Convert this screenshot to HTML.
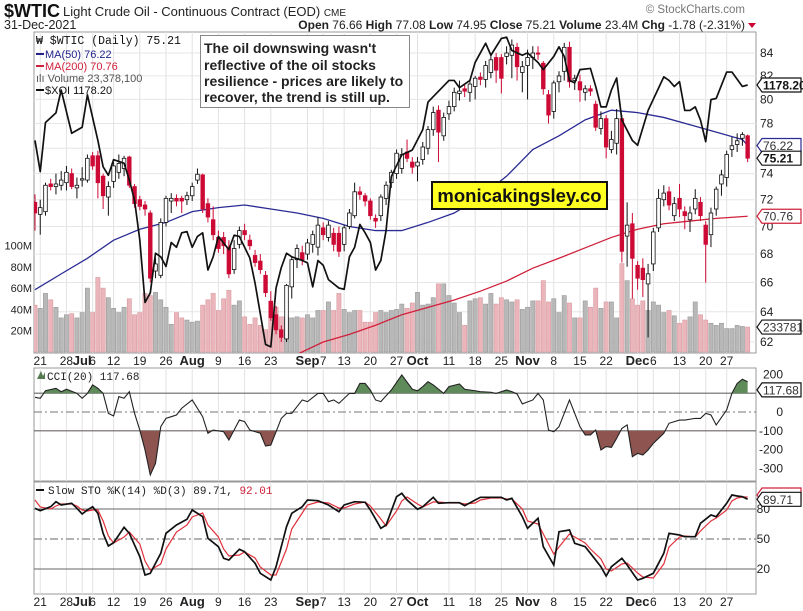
<!DOCTYPE html>
<html><head><meta charset="utf-8">
<style>
html,body{margin:0;padding:0;background:#fff;}
svg{display:block;font-family:"Liberation Sans",Arial,sans-serif;}
</style></head>
<body>
<svg id="chart" width="803" height="611" viewBox="0 0 803 611" xmlns="http://www.w3.org/2000/svg">
  <defs>
    <clipPath id="mainClip"><rect x="34" y="32" width="722" height="321"/></clipPath>
    <clipPath id="cciClip"><rect x="34" y="368" width="722" height="113"/></clipPath>
    <clipPath id="stoClip"><rect x="34" y="482" width="722" height="112"/></clipPath>
    <clipPath id="cciUp"><rect x="34" y="368" width="722" height="25.2"/></clipPath>
    <clipPath id="cciDn"><rect x="34" y="430.8" width="722" height="51"/></clipPath>
  </defs>
  <g>
    <text x="4" y="17" font-size="18" font-weight="bold" fill="#111">$WTIC</text>
    <text x="63" y="16" font-size="13" fill="#222">Light Crude Oil - Continuous Contract (EOD) <tspan font-size="10">CME</tspan></text>
    <text x="4" y="29" font-size="12.5" fill="#222">31-Dec-2021</text>
    <text x="745" y="13" font-size="11.5" fill="#777" text-anchor="end">© StockCharts.com</text>
    <text x="745" y="29" font-size="12" fill="#222" text-anchor="end"><tspan font-weight="bold">Open</tspan> 76.66  <tspan font-weight="bold">High</tspan> 77.08  <tspan font-weight="bold">Low</tspan> 74.95  <tspan font-weight="bold">Close</tspan> 75.21  <tspan font-weight="bold">Volume</tspan> 23.4M  <tspan font-weight="bold">Chg</tspan> -1.78 (-2.31%)</text>
    <polygon points="748,23 756,23 752,28" fill="#cc0033"/>
  </g>
  <g id="frames">
    <rect x="34" y="32" width="722" height="321" fill="none" stroke="#999"/>
    <rect x="34" y="368" width="722" height="113" fill="none" stroke="#999"/>
    <rect x="34" y="482" width="722" height="112" fill="none" stroke="#999"/>
  </g>
  <g id="grid"></g>
  <g id="volG" clip-path="url(#mainClip)"></g>
  <g id="maG" clip-path="url(#mainClip)"></g>
  <g id="candleG" clip-path="url(#mainClip)"></g>
  <g id="xoiG" clip-path="url(#mainClip)"></g>
  <g id="cciG"></g>
  <g id="stoG"></g>
  <g id="axisG"></g>

  <g>
    <text x="36" y="44" font-family="Liberation Mono, monospace" font-size="11.5" fill="#111">₩ $WTIC (Daily) 75.21</text>
    <line x1="36" y1="54" x2="44" y2="54" stroke="#23238e" stroke-width="2"/>
    <text x="45" y="58" font-size="11" fill="#23238e">MA(50) 76.22</text>
    <line x1="36" y1="66" x2="44" y2="66" stroke="#d0203a" stroke-width="2"/>
    <text x="45" y="70" font-size="11" fill="#d0203a">MA(200) 70.76</text>
    <text x="36" y="82" font-size="11" fill="#555">ılı Volume 23,378,100</text>
    <line x1="36" y1="90" x2="44" y2="90" stroke="#111" stroke-width="2"/>
    <text x="45" y="94" font-size="11" fill="#111">$XOI 1178.20</text>
  </g>

  <g>
    <rect x="200.5" y="35.5" width="209" height="72" fill="#fff" stroke="#888"/>
    <text font-size="14" font-weight="bold" fill="#222">
      <tspan x="204" y="53">The oil downswing wasn't</tspan>
      <tspan x="204" y="70">reflective of the oil stocks</tspan>
      <tspan x="204" y="86">resilience - prices are likely to</tspan>
      <tspan x="204" y="102">recover, the trend is still up.</tspan>
    </text>
  </g>
  <g>
    <rect x="432" y="182" width="175" height="27" fill="#ffff22" stroke="#111" stroke-width="2"/>
    <text x="519.5" y="202" font-size="18.5" font-weight="bold" fill="#111" text-anchor="middle">monicakingsley.co</text>
  </g>

  <g>
    <polygon points="37,379 41,371 43,376 45,372 45,379" fill="#557a50"/>
    <text x="47" y="380" font-family="Liberation Mono, monospace" font-size="11" fill="#222">CCI(20) 117.68</text>
  </g>
  <g>
    <line x1="36" y1="490" x2="44" y2="490" stroke="#111" stroke-width="2"/>
    <text x="48" y="494" font-family="Liberation Mono, monospace" font-size="11" fill="#222">Slow STO %K(14) %D(3) 89.71, <tspan fill="#d0203a">92.01</tspan></text>
  </g>
</svg>
<script>
// ===== data =====
const opens = [71.8,70.9,71.1,73.2,73.0,73.1,73.3,74.0,72.9,73.5,73.5,75.4,75.4,73.8,72.2,73.4,74.1,74.4,75.3,73.0,72.0,71.6,71.0,66.8,66.5,70.3,71.9,72.1,72.1,72.0,72.3,73.5,73.9,71.7,70.5,69.2,69.2,68.5,66.9,68.7,69.7,69.0,67.9,67.5,66.5,64.7,63.8,62.8,62.2,65.7,67.6,68.1,68.0,68.7,68.5,69.9,69.2,69.5,69.5,68.7,70.0,70.8,72.6,72.3,71.9,70.6,70.8,72.1,73.3,74.0,
74.4,75.7,74.9,74.6,75.1,76.0,77.5,79.1,77.0,78.8,79.4,80.5,80.9,80.6,81.1,81.9,81.7,82.3,83.6,83.6,83.7,83.8,84.5,82.3,82.9,83.6,84.0,83.1,80.4,79.0,81.5,82.4,84.5,81.6,81.5,80.6,80.9,79.6,77.6,78.4,75.9,76.4,78.4,
69.3,70.2,67.2,67.0,65.9,67.3,69.9,72.0,72.6,70.8,72.1,71.1,70.5,71.3,71.8,70.1,69.4,71.3,73.2,73.7,75.9,76.3,76.8,77.0];
const highs = [72.4,72.0,73.3,73.6,74.0,74.2,74.6,74.4,73.7,74.5,75.5,75.7,75.8,74.0,73.4,74.9,75.5,75.4,75.4,73.2,72.3,71.9,71.2,67.7,70.6,72.3,72.5,72.4,72.3,72.6,73.3,74.4,74.0,72.1,71.5,69.7,69.6,69.0,69.0,70.0,70.2,69.4,68.3,68.0,66.8,65.4,64.4,63.1,65.9,67.8,68.7,68.6,69.1,69.7,70.7,70.3,70.4,69.9,70.0,70.1,71.3,73.3,73.0,72.5,72.1,70.9,72.4,73.4,74.3,75.9,
76.0,76.7,75.3,75.3,76.5,77.8,79.4,79.5,78.9,79.9,81.0,81.6,81.3,81.7,82.0,82.3,83.3,83.9,84.0,83.9,84.6,85.2,84.9,83.3,84.3,84.6,84.6,83.3,80.8,81.6,82.4,84.9,85.0,82.1,82.1,81.2,81.2,79.9,79.0,78.7,77.4,79.2,78.7,
71.8,71.0,67.5,67.7,67.3,69.9,72.8,73.1,73.0,72.2,73.2,71.5,71.5,72.8,72.2,70.4,71.4,73.0,74.3,75.8,76.9,77.2,77.3,77.1];
const lows = [69.7,69.4,70.8,72.7,72.4,72.7,72.7,72.8,72.1,73.0,73.3,74.3,72.1,71.3,70.8,72.9,73.6,73.8,72.9,71.4,71.2,70.8,66.0,66.3,66.3,70.0,71.0,71.5,71.0,71.6,71.9,73.2,71.0,70.3,69.0,68.1,68.0,66.3,66.6,68.4,69.0,68.3,67.1,66.6,65.0,63.4,62.5,62.0,62.0,64.9,67.0,67.2,67.6,68.1,67.9,69.0,68.9,68.2,67.8,68.2,69.8,70.6,72.0,71.5,70.5,69.9,70.4,71.6,72.9,73.6,
74.0,74.9,74.0,73.4,74.7,75.5,77.0,74.9,76.6,78.3,79.0,79.9,80.2,79.8,80.0,81.2,81.0,81.8,81.4,80.5,83.0,81.8,81.6,80.6,80.0,82.6,83.4,80.4,78.0,78.4,80.6,81.6,81.0,80.8,79.8,79.9,80.3,77.4,77.1,75.2,75.6,75.5,67.4,
67.1,64.9,65.5,65.0,62.3,66.8,69.6,71.5,71.2,70.4,70.7,69.8,69.6,70.9,70.4,66.0,68.5,70.8,72.3,73.0,75.3,75.7,76.2,74.9];
const closes = [71.0,71.4,73.1,73.0,73.2,73.5,74.1,73.0,73.1,73.6,75.2,74.6,73.3,72.3,73.0,74.6,74.8,75.2,73.1,71.7,71.5,71.3,66.3,67.3,70.3,72.1,72.1,71.9,71.9,72.3,73.0,73.95,71.3,70.7,69.4,68.4,68.6,66.6,68.4,69.7,69.4,68.6,67.4,66.9,65.3,63.6,62.8,62.3,65.8,67.6,68.4,67.6,68.8,69.4,70.1,69.4,70.1,68.7,68.2,69.9,71.0,72.6,72.4,71.9,70.8,70.4,72.2,73.1,74.1,75.6,
75.5,75.2,74.5,74.9,76.1,77.5,78.9,77.3,78.5,79.4,80.6,80.7,80.7,81.3,81.8,81.7,82.9,83.4,82.5,81.8,84.0,84.7,82.8,82.8,83.6,84.0,83.9,80.9,78.7,81.4,82.0,84.5,81.5,81.8,80.8,80.9,80.7,77.7,78.4,76.1,76.7,78.4,68.2,
70.1,67.7,66.3,66.2,66.6,69.6,72.1,72.5,71.6,71.7,71.3,70.8,71.0,72.1,70.8,68.7,71.0,72.8,73.9,75.5,76.2,76.6,77.1,75.21];
const volumes = [44,41,55,49,42,32,35,36,32,37,60,37,70,60,51,41,37,42,50,35,37,55,53,56,49,42,26,37,32,30,28,29,44,49,55,39,50,58,44,48,33,26,32,25,21,48,42,33,33,32,33,32,35,32,39,39,47,39,55,40,37,39,39,28,28,37,39,37,39,40,
45,41,46,56,44,45,51,64,64,53,46,37,25,48,50,51,45,55,45,51,49,47,49,40,42,48,48,67,47,50,37,53,46,32,32,48,42,60,41,47,47,32,83,67,50,44,48,39,47,44,37,39,34,27,30,33,47,35,30,27,25,27,22,22,25,24,23.4];
const ma50Idx = [0,5,10,15,20,25,30,35,40,45,50,55,60,65,70,75,80,85,90,95,100,105,110,115,120,125,130,135,136];
const ma50Val = [65.5,66.6,67.7,69.0,69.8,70.3,71.1,71.4,71.6,71.3,71.0,70.6,70.0,69.7,69.7,70.3,71.0,72.2,73.8,75.9,77.0,78.3,79.1,78.9,78.5,77.9,77.3,76.7,76.22];
const ma200Idx = [50,55,60,65,70,75,80,85,90,95,100,105,110,115,120,125,130,136];
const ma200Val = [61.2,62.0,62.5,63.1,63.8,64.3,64.8,65.4,66.1,67.0,67.7,68.45,69.2,69.8,70.2,70.4,70.6,70.76];
const xoiIdx = [0,1,2,4,5,7,9,10,12,13,14,15,17,18,19,20,21,22,23,24,25,26,27,28,29,30,31,32,33,34,35,37,38,39,40,41,42,44,45,46,47,48,49,51,52,53,54,55,56,58,59,60,61,62,63,64,65,66,67,68,70,72,74,75,79,80,81,83,84,85,86,87,89,90,91,93,94,96,97,99,100,101,102,103,104,106,107,108,109,110,111,112,114,115,117,120,121,122,123,124,125,126,127,128,129,130,132,133,135,136];
const xoiVal = [1132,1106,1147,1155,1174,1138,1143,1170,1132,1110,1103,1116,1113,1099,1082,1049,997,1005,1038,1035,1027,1047,1043,1055,1056,1043,1052,1055,1024,1035,1052,1041,1053,1052,1043,1034,1013,962,960,1009,1026,1038,1035,1032,1030,1010,1032,1028,1016,1009,1008,1035,1043,1062,1055,1047,1024,1032,1057,1102,1120,1124,1141,1164,1182,1182,1176,1182,1197,1205,1213,1203,1217,1218,1207,1203,1205,1197,1191,1202,1210,1202,1182,1180,1191,1192,1177,1160,1160,1174,1184,1149,1132,1128,1157,1185,1182,1177,1181,1157,1157,1160,1149,1131,1166,1167,1189,1189,1177,1178.2];
const cciIdx = [0,1,2,4,5,6,8,9,10,11,12,13,14,15,16,17,18,19,20,21,22,23,24,25,26,27,28,30,32,33,34,36,37,38,39,40,41,43,44,45,47,48,49,51,52,54,55,56,57,58,60,61,62,63,64,65,66,68,70,72,73,74,75,76,78,79,81,82,84,85,87,88,90,91,92,93,95,96,97,98,99,100,101,102,103,104,105,106,107,108,109,110,111,112,113,114,115,116,117,118,120,121,123,124,126,127,128,129,130,132,133,134,135,136];
const cciVal = [78,73,113,126,108,121,99,73,99,144,126,99,-7,-21,82,73,108,-7,-96,-202,-335,-273,-78,-34,-25,-16,20,64,-25,-113,-96,-105,-149,-96,-43,-51,-96,-113,-181,-176,-34,-7,-7,64,55,99,99,55,64,46,99,99,152,152,117,64,55,117,197,121,113,135,161,144,99,135,149,121,113,108,105,99,117,108,96,43,64,99,64,-96,-105,-78,-7,64,-7,-78,-122,-122,-96,-202,-184,-188,-140,-87,-69,-238,-220,-229,-202,-167,-113,-60,-43,-43,-34,-34,-7,-16,-69,11,99,152,174,161,117.68];
const stoIdx = [0,1,3,4,5,7,8,9,10,11,12,13,14,15,17,18,20,21,22,24,25,27,29,30,32,33,35,36,37,39,40,42,43,45,46,48,49,51,52,54,56,58,59,61,63,64,66,67,69,70,71,73,74,76,77,79,81,82,84,85,87,89,90,91,93,94,96,97,99,100,102,103,105,106,108,109,110,112,113,115,116,118,120,121,123,124,126,127,129,130,132,133,134,135,136];
const kVal = [80.7,78.3,82.3,87.3,84,85.7,80.7,75,79,82.3,75.7,55.7,43,46.3,61.7,55.7,32.3,14,15.7,35.7,55.7,64,69.7,79,72.3,50.7,42.3,30.7,29,39.7,37.3,25.7,15.7,9,22.3,62.3,75.7,82.3,89,88.3,84,77.3,84,87.3,86.7,79,60.7,64,92.3,95.7,89,79.7,82.3,91.7,85.7,86.3,86.3,83.3,89,91.7,91.7,91.7,89,90.7,72.3,60.7,70.7,42.3,24,57.3,59,45.7,42.3,35.7,22.3,13,22.3,30.7,24,9,10.7,15.7,35.7,55.7,54,52.3,52.3,65.7,74,72.3,85.7,94,93,92.3,89.71];
const dVal = [89,82,80,83,85,85,83,79,78,79,79,68,53,46,52,57,45,28,19,25,40,57,64,72,76,64,52,40,33,34,37,31,22,14,14,40,60,76,84,87,86,81,81,85,87,83,70,63,78,88,92,85,82,87,87,86,86,85,86,89,91,91,90,90,80,68,65,55,35,42,55,52,46,40,30,20,18,25,26,16,12,11,25,42,52,53,52,58,68,71,79,88,91,92,92.01];
const priceTicks = [84,82,80,78,76,74,72,70,68,66,64,62];
const volTicks = [20,40,60,80,100];
const cciTicks = [200,100,0,-100,-200,-300];
const stoTicks = [80,50,20];
const dateIdx = [1,6,9,11,15,20,25,30,35,40,45,52,55,59,64,69,73,79,84,89,94,99,104,109,115,118,123,128,132];
const dateLbl = ["21","28","Jul","6","12","19","26","Aug","9","16","23","Sep","7","13","20","27","Oct","11","18","25","Nov","8","15","22","Dec","6","13","20","27"];

// ===== scales =====
const NS = "http://www.w3.org/2000/svg";
const xB = i => 35 + i * 5.24;
const yP = p => 53 + Math.log(84 / p) * 951.6;
const yV = v => 352 - v * 1.065;
const yX = v => 85 + (1178.2 - v) * 1.2;
const yC = v => 412 - v * 0.188;
const yS = v => 589 - v * 1.0;
function mk(tag, attrs, parent){ const e=document.createElementNS(NS,tag); for(const k in attrs) e.setAttribute(k,attrs[k]); parent.appendChild(e); return e; }
const G = id => document.getElementById(id);

// grid
const grid = G('grid');
dateIdx.forEach(i=>{
  [[32,353],[368,481],[482,594]].forEach(r=>{
    const l=mk('line',{x1:xB(i),x2:xB(i),y1:r[0],y2:r[1],stroke:'#e2e2e2'},grid);
    
    
  });
});
priceTicks.forEach(p=>{
  const l=mk('line',{x1:34,x2:756,y1:yP(p),y2:yP(p),stroke:'#e6e6e6'},grid);
  
  
});

// volume
const volG = G('volG');
volumes.forEach((v,i)=>{
  const down = closes[i] < opens[i];
  const r=mk('rect',{x:xB(i)-2.1,y:yV(v),width:4.2,height:352-yV(v),fill:down?'#ebb6bb':'#b8b8b8',stroke:down?'#d89aa0':'#999','stroke-width':0.6},volG);
  
  
});

// moving averages
const maG = G('maG');
const ma50 = mk('polyline',{points:ma50Idx.map((d,k)=>xB(d)+','+yP(ma50Val[k])).join(' '),fill:'none',stroke:'#2b2b95','stroke-width':1.3},maG);


const ma200 = mk('polyline',{points:ma200Idx.map((d,k)=>xB(d)+','+yP(ma200Val[k])).join(' '),fill:'none',stroke:'#d0203a','stroke-width':1.3},maG);



// candles
const cG = G('candleG');
opens.forEach((o,i)=>{
  const c=closes[i], h=highs[i], l=lows[i], x=xB(i);
  const down = c<o;
  const col = down ? '#cc0a35' : '#111';
  const w=mk('line',{x1:x,x2:x,y1:yP(h),y2:yP(l),stroke:col,'stroke-width':1},cG);
  
  
  const top=yP(Math.max(o,c)), bot=yP(Math.min(o,c));
  const b=mk('rect',{x:x-1.8,y:top,width:3.6,height:Math.max(1,bot-top),fill:down?'#cc0a35':'#fff',stroke:col,'stroke-width':0.8},cG);
  
  
});

// XOI
const xoi = mk('polyline',{points:xoiIdx.map((d,k)=>xB(d)+','+yX(xoiVal[k])).join(' '),fill:'none',stroke:'#111','stroke-width':1.7,'stroke-linejoin':'round'},G('xoiG'));



// CCI
const cciG = G('cciG');
[[100,'solid'],[-100,'solid'],[0,'dash']].forEach(t=>{
  const l=mk('line',{x1:34,x2:756,y1:yC(t[0]),y2:yC(t[0]),stroke:t[1]==='dash'?'#777':'#666','stroke-width':1.1},cciG);
  if(t[1]==='dash') l.setAttribute('stroke-dasharray','8,3,2,3');
  
  
});
const cciPts = cciIdx.map((d,k)=>[xB(d),yC(cciVal[k])]);
const ptsStr = cciPts.map(p=>p.join(',')).join(' ');
const upA = mk('polygon',{points:xB(cciIdx[0])+','+yC(100)+' '+ptsStr+' '+xB(cciIdx[cciIdx.length-1])+','+yC(100),fill:'#5f8a5a','clip-path':'url(#cciUp)'},cciG);


const dnA = mk('polygon',{points:xB(cciIdx[0])+','+yC(-100)+' '+ptsStr+' '+xB(cciIdx[cciIdx.length-1])+','+yC(-100),fill:'#8e5550','clip-path':'url(#cciDn)'},cciG);


const cciL = mk('polyline',{points:ptsStr,fill:'none',stroke:'#222','stroke-width':1.1,'clip-path':'url(#cciClip)'},cciG);



// STO
const stoG = G('stoG');
stoTicks.forEach(v=>{
  const l=mk('line',{x1:34,x2:756,y1:yS(v),y2:yS(v),stroke:'#666','stroke-width':1.1},stoG);
  if(v===50) l.setAttribute('stroke-dasharray','8,3,2,3');
  
  
});
const dL = mk('polyline',{points:stoIdx.map((d,k)=>xB(d)+','+yS(dVal[k])).join(' '),fill:'none',stroke:'#e0303a','stroke-width':1.2,'clip-path':'url(#stoClip)'},stoG);


const kL = mk('polyline',{points:stoIdx.map((d,k)=>xB(d)+','+yS(kVal[k])).join(' '),fill:'none',stroke:'#111','stroke-width':1.7,'clip-path':'url(#stoClip)'},stoG);



// axes labels
const ax = G('axisG');
function txt(x,y,s,attrs,name){ const t=mk('text',Object.assign({x:x,y:y,'font-size':12,fill:'#222'},attrs||{}),ax); t.textContent=s;   return t; }
priceTicks.forEach(p=>{ txt(760,yP(p)+4,String(p),{},'price-tick-label'); });
volTicks.forEach(v=>{ txt(32,yV(v)+4,v+'M',{'text-anchor':'end','font-size':11},'volume-tick-label'); });
cciTicks.forEach(v=>{ txt(783,yC(v)+4,String(v),{'text-anchor':'end'},'cci-tick-label'); });
stoTicks.forEach(v=>{ txt(770,yS(v)+4,String(v),{'text-anchor':'end'},'sto-tick-label'); });
dateIdx.forEach((d,k)=>{
  const bold = isNaN(+dateLbl[k]);
  txt(xB(d),365,dateLbl[k],{'text-anchor':'middle','font-weight':bold?'bold':'normal','font-size':bold?13:12},'date-label-top');
  txt(xB(d),606,dateLbl[k],{'text-anchor':'middle','font-weight':bold?'bold':'normal','font-size':bold?13:12},'date-label-bottom');
});
// value tags
function tag(y,label,stroke,bold,name){
  const p=mk('polygon',{points:`757,${y} 762,${y-7} 801,${y-7} 801,${y+7} 762,${y+7}`,fill:'#fff',stroke:stroke,'stroke-width':1.2},ax);
  
  
  txt(763,y+4.5,label,{'font-weight':bold?'bold':'normal','font-size':12,fill:bold?'#111':'#333'},name);
}
tag(yX(1178.2),'1178.20','#111',true,'xoi-value-tag');
tag(yP(76.22),'76.22','#2b2b95',false,'ma50-value-tag');
tag(yP(75.21),'75.21','#111',true,'close-value-tag');
tag(yP(70.76),'70.76','#d0203a',false,'ma200-value-tag');
tag(yV(23.4),'2337810','#111',false,'volume-value-tag');
tag(yC(117.68),'117.68','#111',false,'cci-value-tag');
tag(yS(92.01)-2,'','#d0203a',false,'sto-d-value-tag');
tag(yS(89.71),'89.71','#111',false,'sto-k-value-tag');
</script>
</body></html>
